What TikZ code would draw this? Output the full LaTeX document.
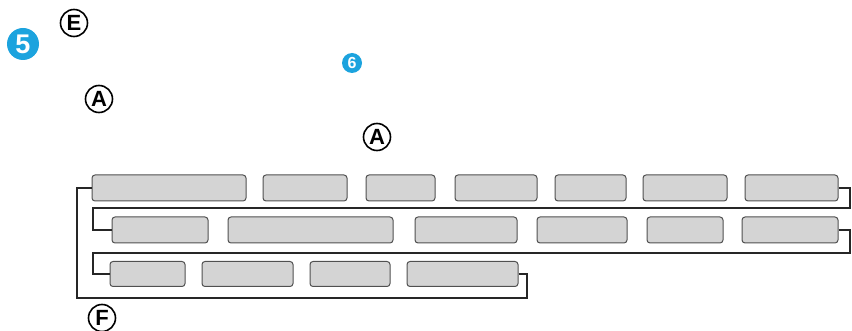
\documentclass[tikz,border=0pt]{standalone}
\usepackage{fontspec}
\setmainfont{Liberation Sans}
\definecolor{stepblue}{HTML}{1CA3DE}
\definecolor{slotfill}{HTML}{D4D4D4}
\definecolor{slotedge}{HTML}{505050}
\tikzset{
	slot/.style={draw=slotedge, fill=slotfill, line width=1pt, rounded corners=3pt, inner sep=0pt},
	link/.style={draw=black!85, line width=1.3pt},
	callout/.style={circle, draw, line width=1.6pt, inner sep=0pt, minimum size=27pt, font=\fontsize{22}{22}\selectfont\bfseries},
	stepnum/.style={circle, fill=stepblue, text=white, inner sep=0pt, font=\bfseries}
}
\begin{document}
\begin{tikzpicture}[x=1pt,y=-1pt]
	\useasboundingbox (0,0) rectangle (852,331);
	
	\node[stepnum, minimum size=32pt, font=\fontsize{27}{27}\selectfont\bfseries] (s5) at (23,44) {5};
	\node[stepnum, minimum size=20pt, font=\fontsize{16}{16}\selectfont\bfseries] (s6) at (352,63) {6};
	
	\node[callout] (ce) at (74,23) {E};
	\node[callout] (ca1) at (99,99) {A};
	\node[callout] (ca2) at (377,137) {A};
	\node[callout] (cf) at (102,318) {F};
	
	% first row
	\node[slot, minimum width=154pt, minimum height=26pt] (a1) at (169,188) {};
	\node[slot, minimum width=84pt, minimum height=26pt] (a2) at (305,188) {};
	\node[slot, minimum width=69pt, minimum height=26pt] (a3) at (400.5,188) {};
	\node[slot, minimum width=82pt, minimum height=26pt] (a4) at (496,188) {};
	\node[slot, minimum width=71pt, minimum height=26pt] (a5) at (590.5,188) {};
	\node[slot, minimum width=84pt, minimum height=26pt] (a6) at (685,188) {};
	\node[slot, minimum width=93pt, minimum height=26pt] (a7) at (791.5,188) {};
	
	% second row
	\node[slot, minimum width=96pt, minimum height=26pt] (b1) at (160,230) {};
	\node[slot, minimum width=165pt, minimum height=26pt] (b2) at (310.5,230) {};
	\node[slot, minimum width=102pt, minimum height=26pt] (b3) at (466,230) {};
	\node[slot, minimum width=90pt, minimum height=26pt] (b4) at (582,230) {};
	\node[slot, minimum width=76pt, minimum height=26pt] (b5) at (685,230) {};
	\node[slot, minimum width=96pt, minimum height=26pt] (b6) at (790,230) {};
	
	% third row
	\node[slot, minimum width=75pt, minimum height=25pt] (c1) at (147.5,274) {};
	\node[slot, minimum width=91pt, minimum height=25pt] (c2) at (247.5,274) {};
	\node[slot, minimum width=80pt, minimum height=25pt] (c3) at (350,274) {};
	\node[slot, minimum width=111pt, minimum height=25pt] (c4) at (462.5,274) {};
	
	\coordinate (r1) at (850,208);
	\coordinate (l1) at (93,208);
	\coordinate (r2) at (850,253);
	\coordinate (l2) at (93,253);
	\coordinate (r3) at (527,298);
	\coordinate (l3) at (77,298);
	
	\draw[link] (a7.east) -| (r1) -- (l1) |- (b1.west);
	\draw[link] (b6.east) -| (r2) -- (l2) |- (c1.west);
	\draw[link] (c4.east) -| (r3) -- (l3) |- (a1.west);
\end{tikzpicture}
\end{document}
